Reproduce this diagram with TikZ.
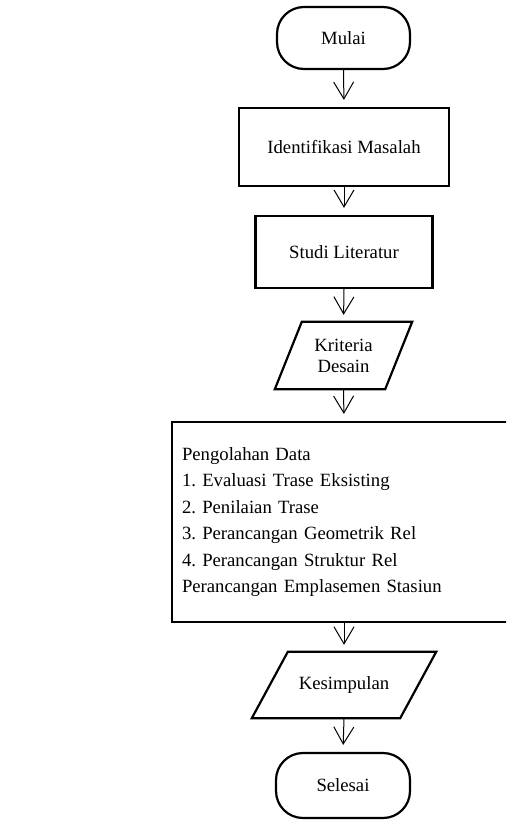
\documentclass[tikz,border=0pt]{standalone}
\usepackage{fontspec}
\setmainfont{Liberation Serif}
\usetikzlibrary{arrows.meta}
\tikzset{
  basefont/.style={font=\fontsize{18.7}{21}\selectfont\frenchspacing},
  termbox/.style={draw, line width=2.2pt, rounded corners=27pt, basefont, align=center},
  procbox/.style={draw, line width=2.2pt, basefont, align=center},
  iobox/.style={basefont, align=center, inner sep=0pt},
  ioshape/.style={draw, line width=2.2pt, line join=miter},
  arr/.style={line width=1pt, -{Straight Barb[length=17pt,width=20pt]}, shorten >=7pt}
}
\begin{document}
\begin{tikzpicture}[x=1pt,y=-1pt]
\clip (0,0) rectangle (506,821);
\fill[white] (0,0) rectangle (506,821);

\node[termbox, minimum width=133pt, minimum height=62pt] (mulai) at (343.5,38) {Mulai};
\node[procbox, minimum width=210pt, minimum height=78pt] (idm) at (344,147) {Identifikasi Masalah};
\node[procbox, minimum width=177pt, minimum height=72pt] (studi) at (344,252) {Studi Literatur};

\node[iobox, minimum width=110pt, minimum height=67pt] (krit) at (343.5,355.5) {Kriteria\\Desain};
\draw[ioshape] ([xshift=13.5pt]krit.north west) -- ([xshift=13.5pt]krit.north east)
  -- ([xshift=-13.5pt]krit.south east) -- ([xshift=-13.5pt]krit.south west) -- cycle;

\node[procbox, minimum width=344pt, minimum height=200pt, text width=324pt, inner xsep=10pt,
  align=left, font=\fontsize{18.7}{26.5}\selectfont\frenchspacing] (olah) at (344,522)
  {Pengolahan Data\\1. Evaluasi Trase Eksisting\\2. Penilaian Trase\\3. Perancangan Geometrik Rel\\4. Perancangan Struktur Rel\\Perancangan Emplasemen Stasiun};

\node[iobox, minimum width=148pt, minimum height=66pt] (simp) at (344,685) {Kesimpulan};
\draw[ioshape] ([xshift=18pt]simp.north west) -- ([xshift=18pt]simp.north east)
  -- ([xshift=-18pt]simp.south east) -- ([xshift=-18pt]simp.south west) -- cycle;

\node[termbox, minimum width=134pt, minimum height=65pt] (selesai) at (343,785.5) {Selesai};

\draw[arr] (mulai.south) -- (idm.north);
\draw[arr] (idm.south) -- (studi.north);
\draw[arr] (studi.south) -- (krit.north);
\draw[arr] (krit.south) -- (olah.north);
\draw[arr] (olah.south) -- (simp.north);
\draw[arr] (simp.south) -- (selesai.north);
\end{tikzpicture}
\end{document}
